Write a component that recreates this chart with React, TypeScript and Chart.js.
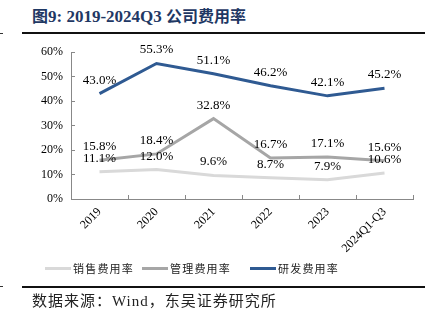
import React, { useEffect, useRef } from "react";
import { Chart, registerables } from "chart.js";

Chart.register(...registerables);

const categories = ["2019", "2020", "2021", "2022", "2023", "2024Q1-Q3"];
const salesRate = [11.1, 12.0, 9.6, 8.7, 7.9, 10.6];
const mgmtRate = [15.8, 18.4, 32.8, 16.7, 17.1, 15.6];
const rdRate = [43.0, 55.3, 51.1, 46.2, 42.1, 45.2];
const yTicks = [0, 10, 20, 30, 40, 50, 60];
const seriesNames = ["销售费用率", "管理费用率", "研发费用率"];
const seriesColors = ["#D9D9D9", "#A6A6A6", "#2F5A92"];

const SERIF = "'Liberation Serif', 'Times New Roman', 'Noto Sans CJK SC', serif";

const labelPlugin = {
  id: "pointLabels",
  afterDatasetsDraw(chart: any) {
    const ctx = chart.ctx;
    ctx.save();
    ctx.font = `13px ${SERIF}`;
    ctx.fillStyle = "#000";
    ctx.textAlign = "center";
    ctx.textBaseline = "bottom";
    chart.data.datasets.forEach((ds: any, i: number) => {
      const meta = chart.getDatasetMeta(i);
      meta.data.forEach((pt: any, j: number) => {
        ctx.fillText(ds.data[j].toFixed(1) + "%", pt.x, pt.y - 7);
      });
    });
    ctx.restore();
  },
};

export default function App() {
  const ref = useRef<HTMLCanvasElement>(null);
  useEffect(() => {
    const series = [salesRate, mgmtRate, rdRate];
    const chart = new Chart(ref.current!, {
      type: "line",
      data: {
        labels: categories,
        datasets: series.map((d, i) => ({
          label: seriesNames[i],
          data: d,
          borderColor: seriesColors[i],
          backgroundColor: seriesColors[i],
          borderWidth: 3,
          pointRadius: 0,
          tension: 0,
        })),
      },
      options: {
        animation: false,
        responsive: false,
        layout: { padding: { top: 12, right: 12, left: 0, bottom: 0 } },
        plugins: {
          tooltip: { enabled: false },
          legend: { display: false },
        },
        scales: {
          x: {
            offset: true,
            grid: { display: true, drawOnChartArea: false, offset: true, color: "#888", tickLength: -4 },
            border: { color: "#888" },
            ticks: { maxRotation: 45, minRotation: 45, color: "#000", font: { family: SERIF, size: 12 }, padding: 10 },
            afterFit: (s: any) => { s.height = 63; s.paddingTop = 0; s.paddingBottom = 0; },
          },
          y: {
            min: 0,
            max: 60,
            afterBuildTicks: (s: any) => { s.ticks = yTicks.map((v) => ({ value: v })); },
            grid: { display: true, drawOnChartArea: false, color: "#888", tickLength: -4 },
            border: { color: "#888" },
            ticks: { color: "#000", font: { family: SERIF, size: 12 }, padding: 12, callback: (v: any) => v + "%" },
            afterFit: (s: any) => { s.width = 49; s.paddingTop = 8; s.paddingBottom = 8; },
          },
        },
      },
      plugins: [labelPlugin],
    } as any);
    return () => chart.destroy();
  }, []);

  const legendX = [45, 142, 250];

  return (
    <div style={{ position: "absolute", left: 0, top: 0, width: 438, height: 324, background: "#fff", fontFamily: SERIF }}>
      <div style={{ position: "absolute", left: 32, top: 5, fontWeight: "bold", color: "#1F3864", whiteSpace: "nowrap", fontSize: 17, lineHeight: "24px" }}>
        <span style={{ fontSize: 16 }}>图</span>9:&nbsp;2019-2024Q3&nbsp;<span style={{ fontSize: 16 }}>公司费用率</span>
      </div>
      <div style={{ position: "absolute", left: 0, top: 33, width: 3, height: 1, background: "#333" }} />
      <div style={{ position: "absolute", left: 22, top: 32, width: 403, height: 2, background: "#111" }} />
      <canvas ref={ref} width={403} height={222} style={{ position: "absolute", left: 22, top: 40 }} />
      {seriesNames.map((name, i) => (
        <div key={name} style={{ position: "absolute", left: legendX[i], top: 260, height: 16, display: "flex", alignItems: "center", whiteSpace: "nowrap" }}>
          <div style={{ width: 26, height: 3, background: seriesColors[i], marginRight: 2 }} />
          <span style={{ fontSize: 11, letterSpacing: 1.2, color: "#222" }}>{name}</span>
        </div>
      ))}
      <div style={{ position: "absolute", left: 0, top: 286, width: 3, height: 1, background: "#333" }} />
      <div style={{ position: "absolute", left: 22, top: 286, width: 403, height: 2, background: "#111" }} />
      <div style={{ position: "absolute", left: 32, top: 291, fontSize: 15, letterSpacing: 1, color: "#222", whiteSpace: "nowrap", lineHeight: "20px" }}>
        数据来源：Wind，东吴证券研究所
      </div>
    </div>
  );
}
